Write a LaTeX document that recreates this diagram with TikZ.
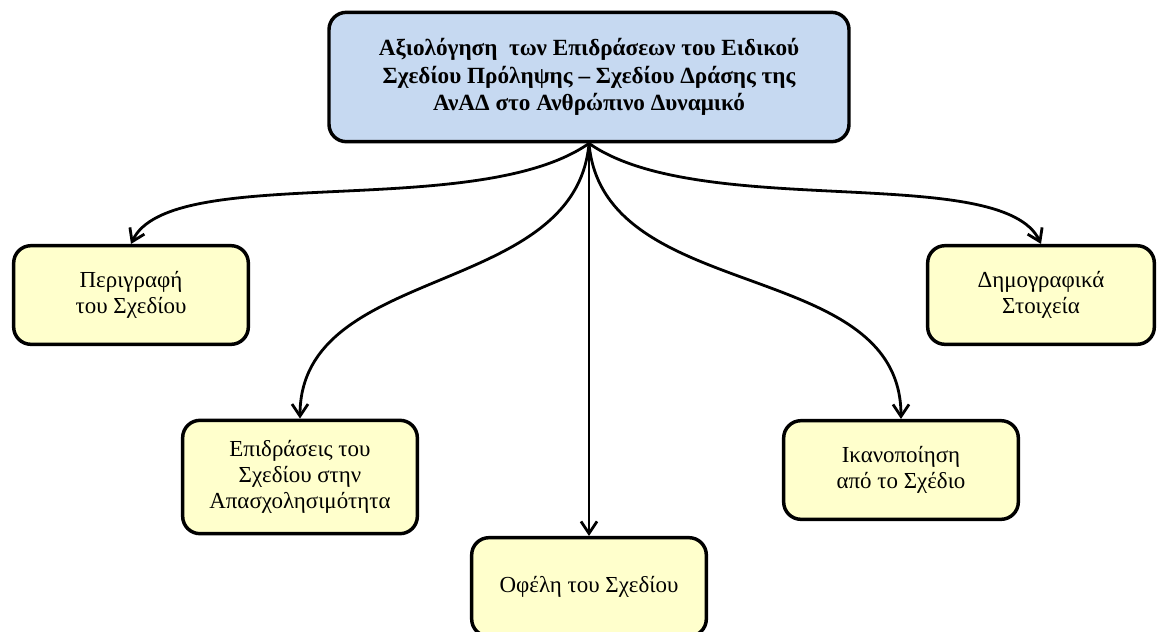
\documentclass[tikz,border=0pt]{standalone}
\usepackage{fontspec}
\setmainfont{Liberation Serif}
\usetikzlibrary{arrows.meta}
\definecolor{headblue}{HTML}{C6D9F1}
\definecolor{leafyellow}{HTML}{FFFFCC}
\tikzset{
  box/.style = {draw=black, line width=2.6pt, rounded corners=13pt, fill=#1, align=center,
    inner sep=2pt, font=\fontsize{17.2}{19.5}\selectfont},
  head/.style = {box={headblue}, minimum width=390pt, minimum height=97pt,
    font=\fontsize{17.4}{20.5}\selectfont\bfseries},
  leaf/.style = {box={leafyellow}, minimum width=176pt, minimum height=74pt},
  link/.style = {color=#1, line width=2.1pt, -{Straight Barb[length=9pt, width=12pt, line width=2.1pt]}}
}

\begin{document}
\begin{tikzpicture}[x=0.75pt, y=-0.75pt]

    \useasboundingbox (0,0) rectangle (1158,632);

    % Nodes
    \node[head] (top) at (589,77) {Αξιολόγηση \ των Επιδράσεων του Ειδικού\\Σχεδίου Πρόληψης -- Σχεδίου Δράσης της\\ΑνΑΔ στο Ανθρώπινο Δυναμικό};
    \node[leaf] (descr) at (131,295) {Περιγραφή\\του Σχεδίου};
    \node[leaf, minimum height=85pt] (effects) at (300,477) {Επιδράσεις του\\Σχεδίου στην\\Απασχολησιμότητα};
    \node[leaf] (benefits) at (589,587) {Οφέλη του Σχεδίου};
    \node[leaf] (satisf) at (901,470) {Ικανοποίηση\\από το Σχέδιο};
    \node[leaf, minimum width=170pt] (demo) at (1041,295) {Δημογραφικά\\Στοιχεία};

    % Links
    \draw[link={black}] (top.south) to[out=215, in=65, out looseness=0.75, in looseness=0.5] (descr.north);
    \draw[link={black}] (top.south) to[out=265, in=90] (effects.north);
    \draw[link={black}] (top.south) -- (benefits.north);
    \draw[link={black}] (top.south) to[out=-85, in=90] (satisf.north);
    \draw[link={black}] (top.south) to[out=-35, in=115, out looseness=0.75, in looseness=0.5] (demo.north);

\end{tikzpicture}
\end{document}
